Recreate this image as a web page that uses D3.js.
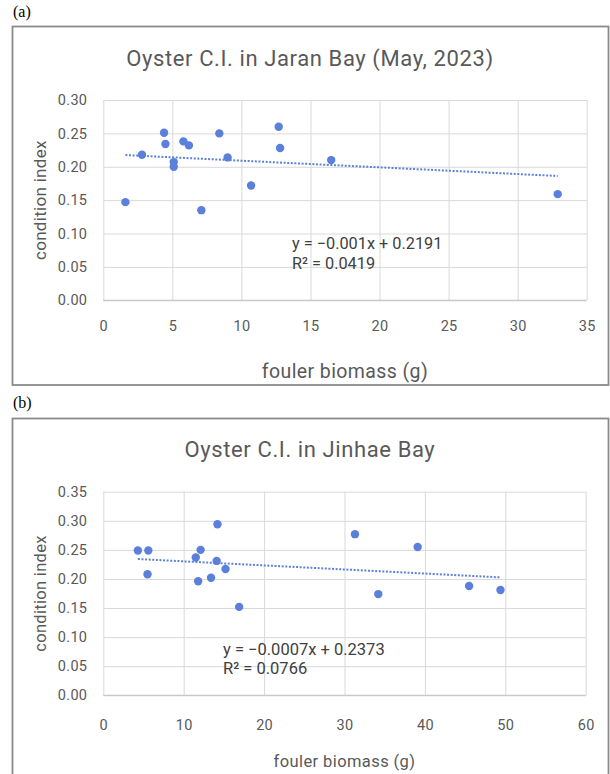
<!DOCTYPE html>
<html>
<head>
<meta charset="utf-8">
<script src="https://cdn.jsdelivr.net/npm/d3@7"></script>
<style>
  body { margin: 0; background: #fff; }
  svg { display: block; }
  .tick text { fill: #595959; font-family: Roboto, sans-serif; font-size: 14.5px; letter-spacing: 0.3px; }
  .grid line { stroke: #d9d9d9; stroke-width: 1; }
  .grid .domain { display: none; }
</style>
</head>
<body>
<svg width="610" height="774"></svg>
<script>
// (a) Jaran Bay, May 2023
let jaranBiomass = [1.6, 2.8, 4.4, 4.5, 5.1, 5.1, 5.8, 6.2, 7.1, 8.4, 9.0, 10.7, 12.7, 12.8, 16.5, 32.9];
let jaranCI      = [0.147, 0.218, 0.251, 0.234, 0.207, 0.200, 0.238, 0.232, 0.135, 0.250, 0.214, 0.172, 0.260, 0.228, 0.210, 0.159];
let jaranXTicks  = [0, 5, 10, 15, 20, 25, 30, 35];
let jaranYTicks  = [0, 0.05, 0.10, 0.15, 0.20, 0.25, 0.30];
let jaranTrend   = [-0.001, 0.2191]; // slope, intercept
let jaranEq      = ["y = \u22120.001x + 0.2191", "R\u00b2 = 0.0419"];

// (b) Jinhae Bay
let jinhaeBiomass = [4.3, 5.6, 5.5, 11.5, 12.1, 11.8, 14.2, 14.1, 13.4, 15.2, 16.9, 31.3, 39.1, 34.2, 45.5, 49.4];
let jinhaeCI      = [0.249, 0.249, 0.208, 0.237, 0.250, 0.196, 0.294, 0.231, 0.202, 0.217, 0.152, 0.277, 0.255, 0.174, 0.188, 0.181];
let jinhaeXTicks  = [0, 10, 20, 30, 40, 50, 60];
let jinhaeYTicks  = [0, 0.05, 0.10, 0.15, 0.20, 0.25, 0.30, 0.35];
let jinhaeTrend   = [-0.0007, 0.2373];
let jinhaeEq      = ["y = \u22120.0007x + 0.2373", "R\u00b2 = 0.0766"];

let blue = "#5b80dc";
let gray = "#595959";

let svg = d3.select("svg");

// one chart panel, boxed like an excel chart object
var drawPanel = function(p) {
  // outer letter, e.g. (a)
  svg.append("text")
    .attr("x", 13).attr("y", p.letterY)
    .attr("font-family", "'Liberation Serif', 'Times New Roman', serif")
    .attr("font-size", 16).attr("fill", "#000")
    .text(p.letter);

  // chart border
  svg.append("rect")
    .attr("x", 12.5).attr("y", p.boxTop)
    .attr("width", 596).attr("height", p.boxBottom - p.boxTop)
    .attr("fill", "#fff").attr("stroke", "#8a8a8a").attr("stroke-width", 1.8);

  let x = d3.scaleLinear().domain(p.xDomain).range([p.left, p.right]);
  let y = d3.scaleLinear().domain(p.yDomain).range([p.bottom, p.top]);

  // gridlines
  svg.append("g").attr("class", "grid")
    .attr("transform", "translate(0," + p.bottom + ")")
    .call(d3.axisBottom(x).tickValues(p.xTicks).tickSize(-(p.bottom - p.top)).tickFormat(""));
  svg.append("g").attr("class", "grid")
    .attr("transform", "translate(" + p.left + ",0)")
    .call(d3.axisLeft(y).tickValues(p.yTicks).tickSize(-(p.right - p.left)).tickFormat(""));

  // baseline is a touch darker
  svg.append("line")
    .attr("x1", p.left).attr("x2", p.right)
    .attr("y1", p.bottom).attr("y2", p.bottom)
    .attr("stroke", "#c8c8c8").attr("stroke-width", 1.2);

  // tick labels only
  let xAxis = svg.append("g")
    .attr("transform", "translate(0," + p.bottom + ")")
    .call(d3.axisBottom(x).tickValues(p.xTicks).tickSize(0).tickPadding(p.xPad).tickFormat(d3.format("d")));
  xAxis.select(".domain").remove();

  let yAxis = svg.append("g")
    .attr("transform", "translate(" + p.left + ",0)")
    .call(d3.axisLeft(y).tickValues(p.yTicks).tickSize(0).tickPadding(16).tickFormat(d3.format(".2f")));
  yAxis.select(".domain").remove();

  // title
  svg.append("text")
    .attr("x", 310).attr("y", p.titleY)
    .attr("text-anchor", "middle").attr("dominant-baseline", "central")
    .attr("font-family", "Roboto, sans-serif").attr("font-size", 22)
    .attr("letter-spacing", 0.6)
    .attr("fill", gray)
    .text(p.title);

  // axis titles
  svg.append("text")
    .attr("x", (p.left + p.right) / 2).attr("y", p.xLabelY)
    .attr("text-anchor", "middle").attr("dominant-baseline", "central")
    .attr("font-family", "Roboto, sans-serif").attr("font-size", p.xLabelSize)
    .attr("letter-spacing", 0.4)
    .attr("fill", gray)
    .text("fouler biomass (g)");

  svg.append("text")
    .attr("transform", "translate(40," + (p.top + p.bottom) / 2 + ") rotate(-90)")
    .attr("text-anchor", "middle").attr("dominant-baseline", "central")
    .attr("font-family", "Roboto, sans-serif").attr("font-size", p.yLabelSize)
    .attr("letter-spacing", 0.3)
    .attr("fill", gray)
    .text("condition index");

  // linear trendline across the x range of the data
  let xs = d3.extent(p.xs);
  let line = d3.line()
    .x(function(d) { return x(d); })
    .y(function(d) { return y(p.trend[0] * d + p.trend[1]); });
  svg.append("path")
    .datum(xs)
    .attr("d", line)
    .attr("fill", "none")
    .attr("stroke", blue).attr("stroke-width", 2)
    .attr("stroke-dasharray", "2 1.6");

  // points
  svg.append("g").selectAll("circle")
    .data(d3.zip(p.xs, p.ys))
    .enter().append("circle")
    .attr("cx", function(d) { return x(d[0]); })
    .attr("cy", function(d) { return y(d[1]); })
    .attr("r", 4.2)
    .attr("fill", blue);

  // equation + r squared
  let eq = svg.append("text")
    .attr("font-family", "Roboto, sans-serif").attr("font-size", p.eqSize)
    .attr("fill", "#404040");
  eq.selectAll("tspan")
    .data(p.eq)
    .enter().append("tspan")
    .attr("x", p.eqX)
    .attr("y", function(d, i) { return p.eqY + i * p.eqGap; })
    .attr("dominant-baseline", "central")
    .text(function(d) { return d; });
};

drawPanel({
  letter: "(a)", letterY: 17,
  boxTop: 26.5, boxBottom: 385,
  left: 103.3, right: 586.7, top: 100, bottom: 300.3,
  xDomain: [0, 35], yDomain: [0, 0.30],
  xTicks: jaranXTicks, yTicks: jaranYTicks, xPad: 20,
  title: "Oyster C.I. in Jaran Bay (May, 2023)", titleY: 58,
  xLabelY: 371, xLabelSize: 19.5, yLabelSize: 17,
  xs: jaranBiomass, ys: jaranCI, trend: jaranTrend,
  eq: jaranEq, eqX: 292, eqY: 243, eqGap: 20, eqSize: 16.3
});

drawPanel({
  letter: "(b)", letterY: 408,
  boxTop: 418.5, boxBottom: 800,
  left: 103.3, right: 585.7, top: 491.7, bottom: 695.3,
  xDomain: [0, 60], yDomain: [0, 0.35],
  xTicks: jinhaeXTicks, yTicks: jinhaeYTicks, xPad: 24,
  title: "Oyster C.I. in Jinhae Bay", titleY: 449,
  xLabelY: 761, xLabelSize: 16.5, yLabelSize: 16.5,
  xs: jinhaeBiomass, ys: jinhaeCI, trend: jinhaeTrend,
  eq: jinhaeEq, eqX: 223, eqY: 649, eqGap: 19.5, eqSize: 16.5
});
</script>
</body>
</html>
